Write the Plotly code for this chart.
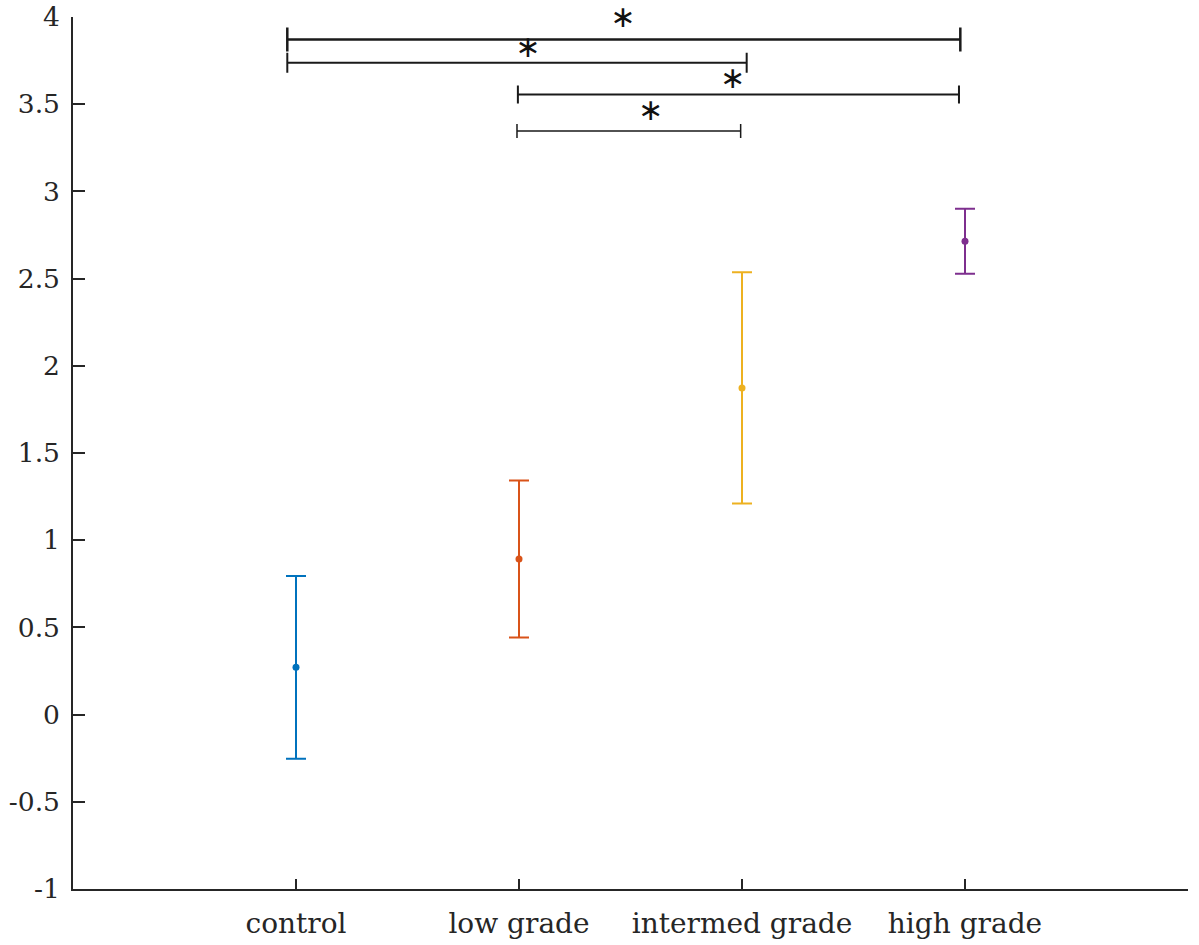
import plotly.graph_objects as go

# ---- data ----
categories = ["control", "low grade", "intermed grade", "high grade"]
cat_x = [1, 2, 3, 4]
means = [0.271, 0.892, 1.873, 2.714]
errors = [0.524, 0.450, 0.663, 0.186]
colors = ["#0072BD", "#D95319", "#EDB120", "#7E2F8E"]

# significance brackets (x start, x end, y)
sig_x0 = [0.961, 0.961, 1.995, 1.991]
sig_x1 = [3.979, 3.021, 3.973, 2.994]
sig_y = [3.871, 3.737, 3.556, 3.347]
sig_cap = [12, 10, 9, 7]
sig_thick = [2.5, 2.0, 2.0, 1.5]

# star labels
star_x = [2.466, 2.040, 2.958, 2.590]
star_y = [3.985, 3.815, 3.637, 3.453]
star_text = ["∗", "∗", "∗", "∗"]

y_ticks = [-1, -0.5, 0, 0.5, 1, 1.5, 2, 2.5, 3, 3.5, 4]
y_ticktext = ["-1", "-0.5", "0", "0.5", "1", "1.5", "2", "2.5", "3", "3.5", "4"]
x_ticks = [0, 1, 2, 3, 4, 5]
x_ticktext = [""] + categories + [""]

axis_color = "#262626"
font_family = "DejaVu Serif"

fig = go.Figure()

for i in range(len(categories)):
    fig.add_trace(go.Scatter(
        x=[cat_x[i]], y=[means[i]],
        mode="markers",
        marker=dict(color=colors[i], size=7),
        error_y=dict(type="data", array=[errors[i]], color=colors[i],
                     thickness=2, width=10),
        showlegend=False, hoverinfo="skip", cliponaxis=False,
    ))

for i in range(len(sig_y)):
    cx = (sig_x0[i] + sig_x1[i]) / 2
    half = (sig_x1[i] - sig_x0[i]) / 2
    fig.add_trace(go.Scatter(
        x=[cx], y=[sig_y[i]],
        mode="markers",
        marker=dict(size=0.1, color="rgba(0,0,0,0)"),
        error_x=dict(type="data", array=[half], color="#1a1a1a",
                     thickness=sig_thick[i], width=sig_cap[i]),
        showlegend=False, hoverinfo="skip", cliponaxis=False,
    ))

fig.add_trace(go.Scatter(
    x=star_x, y=star_y, mode="text", text=star_text,
    textposition="middle center",
    textfont=dict(family="DejaVu Sans", size=30, color="#111111"),
    showlegend=False, hoverinfo="skip", cliponaxis=False,
))

fig.update_layout(
    width=1199, height=945,
    margin=dict(l=73.4, r=11, t=17, b=55.5, autoexpand=False),
    paper_bgcolor="white", plot_bgcolor="white",
    font=dict(family=font_family, size=28, color=axis_color),
)
fig.update_xaxes(
    range=[0, 5], tickmode="array", tickvals=x_ticks, ticktext=x_ticktext,
    showline=True, linecolor=axis_color, linewidth=1.5,
    ticks="inside", ticklen=10, tickwidth=1.5, tickcolor=axis_color,
    showgrid=False, zeroline=False, ticklabelstandoff=9, automargin=False,
    ticklabeloverflow="allow",
    tickfont=dict(family=font_family, size=28, color=axis_color),
)
fig.update_yaxes(
    range=[-1, 4], tickmode="array", tickvals=y_ticks, ticktext=y_ticktext,
    showline=True, linecolor=axis_color, linewidth=1.5,
    ticks="inside", ticklen=12, tickwidth=1.5, tickcolor=axis_color,
    showgrid=False, zeroline=False, ticklabelstandoff=6, automargin=False,
    ticklabeloverflow="allow",
    tickfont=dict(family=font_family, size=26.5, color=axis_color),
)

fig.write_html(
    "out.html",
    config={"displayModeBar": False},
    post_script="document.body.style.margin='0px';document.body.style.overflow='hidden';",
)
